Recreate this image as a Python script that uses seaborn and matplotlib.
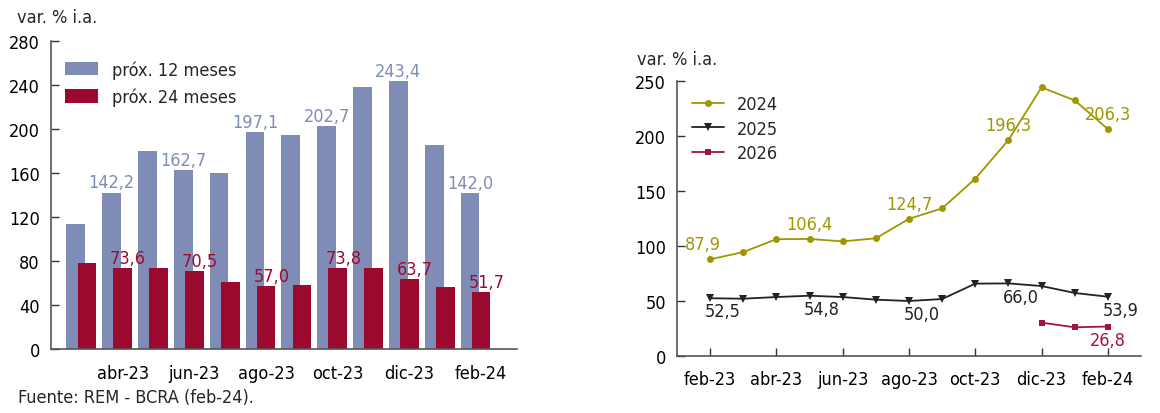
import numpy as np
import pandas as pd
import matplotlib
matplotlib.use("Agg")
import matplotlib.pyplot as plt
import seaborn as sns

# datos del gráfico de barras (mar-23 a feb-24)
meses_barras = ['mar-23', 'abr-23', 'may-23', 'jun-23', 'jul-23', 'ago-23',
                'sep-23', 'oct-23', 'nov-23', 'dic-23', 'ene-24', 'feb-24']
prox_12 = [113.2, 142.2, 179.6, 162.7, 160.4, 197.1, 194.4, 202.7, 237.8, 243.4, 185.9, 142.0]
prox_24 = [78.2, 73.6, 73.4, 70.5, 61.2, 57.0, 58.2, 73.8, 74.0, 63.7, 56.6, 51.7]

# datos del gráfico de líneas (feb-23 a feb-24)
meses_lineas = ['feb-23', 'mar-23', 'abr-23', 'may-23', 'jun-23', 'jul-23', 'ago-23',
                'sep-23', 'oct-23', 'nov-23', 'dic-23', 'ene-24', 'feb-24']
serie_2024 = [87.9, 94.5, 106.2, 106.4, 104.2, 107.0, 124.7, 134.2, 161.2, 196.3, 244.2, 232.4, 206.3]
serie_2025 = [52.5, 52.1, 53.6, 54.8, 53.6, 51.2, 50.0, 51.8, 65.8, 66.0, 63.6, 57.3, 53.9]
meses_2026 = ['dic-23', 'ene-24', 'feb-24']
serie_2026 = [30.3, 26.1, 26.8]

AZUL = '#7f8db6'
ROJO = '#9b0a2e'
OLIVA = '#9f9600'
NEGRO = '#222222'
ROJO_L = '#a3143a'

sns.set_style("ticks")
plt.rcParams['font.family'] = ['DejaVu Sans']
plt.rcParams['font.stretch'] = 'condensed'
plt.rcParams['font.size'] = 13

fig = plt.figure(figsize=(11.6, 4.14), dpi=100)

# ---------- barras ----------
ax1 = fig.add_axes([51 / 1160, 64 / 414, 466 / 1160, 308 / 414])
pos = np.arange(len(meses_barras))
dfb = pd.DataFrame({'pos': pos, 'p12': prox_12, 'p24': prox_24})

sns.barplot(x=dfb['pos'] - 0.31, y=dfb['p12'], native_scale=True, width=0.52,
            color=AZUL, saturation=1, linewidth=0, label='próx. 12 meses', ax=ax1)
sns.barplot(x=dfb['pos'], y=dfb['p24'], native_scale=True, width=0.52,
            color=ROJO, saturation=1, linewidth=0, label='próx. 24 meses', ax=ax1)

for i in range(1, len(pos), 2):
    ax1.text(pos[i] - 0.31, prox_12[i] + 1, f"{prox_12[i]:.1f}".replace('.', ','),
             ha='center', va='bottom', color=AZUL, fontsize=13)
    ax1.text(pos[i] + 0.15, prox_24[i] + 1, f"{prox_24[i]:.1f}".replace('.', ','),
             ha='center', va='bottom', color=ROJO, fontsize=13)

ax1.set_xlim(-1, 12)
ax1.set_ylim(0, 280)
ax1.set_yticks(range(0, 281, 40))
ax1.set_xticks(pos[1::2])
ax1.set_xticklabels(meses_barras[1::2])
ax1.set_xlabel('')
ax1.set_ylabel('')
ax1.tick_params(direction='in', length=6, width=1, colors='#333333', labelcolor='black',
                labelsize=13, pad=8)
ax1.tick_params(axis='x', pad=11)
sns.despine(ax=ax1)
for s in ['left', 'bottom']:
    ax1.spines[s].set_color('#555555')
    ax1.spines[s].set_linewidth(1.2)
ax1.legend(loc='upper left', bbox_to_anchor=(-0.005, 0.99), frameon=False, fontsize=13,
           handlelength=1.85, handleheight=0.8, handletextpad=0.75, labelspacing=0.5)

fig.text(17 / 1160, 1 - 23 / 414, 'var. % i.a.', fontsize=13, va='baseline')
fig.text(18 / 1160, 1 - 403 / 414, 'Fuente: REM - BCRA (feb-24).', fontsize=13, va='baseline')

# ---------- líneas ----------
ax2 = fig.add_axes([677 / 1160, 57 / 414, 464 / 1160, 275 / 414])
xl = np.arange(len(meses_lineas))
x26 = [meses_lineas.index(m) for m in meses_2026]

sns.lineplot(x=xl, y=serie_2024, color=OLIVA, marker='o', markersize=5,
             markeredgewidth=0, linewidth=1.3, label='2024', ax=ax2)
sns.lineplot(x=xl, y=serie_2025, color=NEGRO, marker='v', markersize=6,
             markeredgewidth=0, linewidth=1.3, label='2025', ax=ax2)
sns.lineplot(x=x26, y=serie_2026, color=ROJO_L, marker='s', markersize=5,
             markeredgewidth=0, linewidth=1.3, label='2026', ax=ax2)

for i in range(0, len(xl), 3):
    dx = -5 if i == 0 else 0
    ax2.annotate(f"{serie_2024[i]:.1f}".replace('.', ','), (xl[i], serie_2024[i]),
                 xytext=(dx, 4.5), textcoords='offset points', ha='center', va='bottom',
                 color=OLIVA, fontsize=13)
    ax2.annotate(f"{serie_2025[i]:.1f}".replace('.', ','), (xl[i], serie_2025[i]),
                 xytext=(9, -3), textcoords='offset points', ha='center', va='top',
                 color=NEGRO, fontsize=13)
ax2.annotate(f"{serie_2026[-1]:.1f}".replace('.', ','), (x26[-1], serie_2026[-1]),
             xytext=(0, -3), textcoords='offset points', ha='center', va='top',
             color=ROJO_L, fontsize=13)

ax2.set_xlim(-1, 13)
ax2.set_ylim(0, 250)
ax2.set_yticks(range(0, 251, 50))
ax2.set_xticks(xl[::2])
ax2.set_xticklabels(meses_lineas[::2])
ax2.tick_params(direction='in', length=6, width=1, colors='#333333', labelcolor='black',
                labelsize=13, pad=8)
ax2.tick_params(axis='x', pad=10)
sns.despine(ax=ax2)
for s in ['left', 'bottom']:
    ax2.spines[s].set_color('#555555')
    ax2.spines[s].set_linewidth(1.2)
ax2.legend(loc='upper left', bbox_to_anchor=(-0.003, 1.007), frameon=False, fontsize=13,
           handlelength=1.8, handletextpad=0.7, labelspacing=0.35)

fig.text(637 / 1160, 1 - 65 / 414, 'var. % i.a.', fontsize=13, va='baseline')

fig.savefig('out.png', dpi=100)
